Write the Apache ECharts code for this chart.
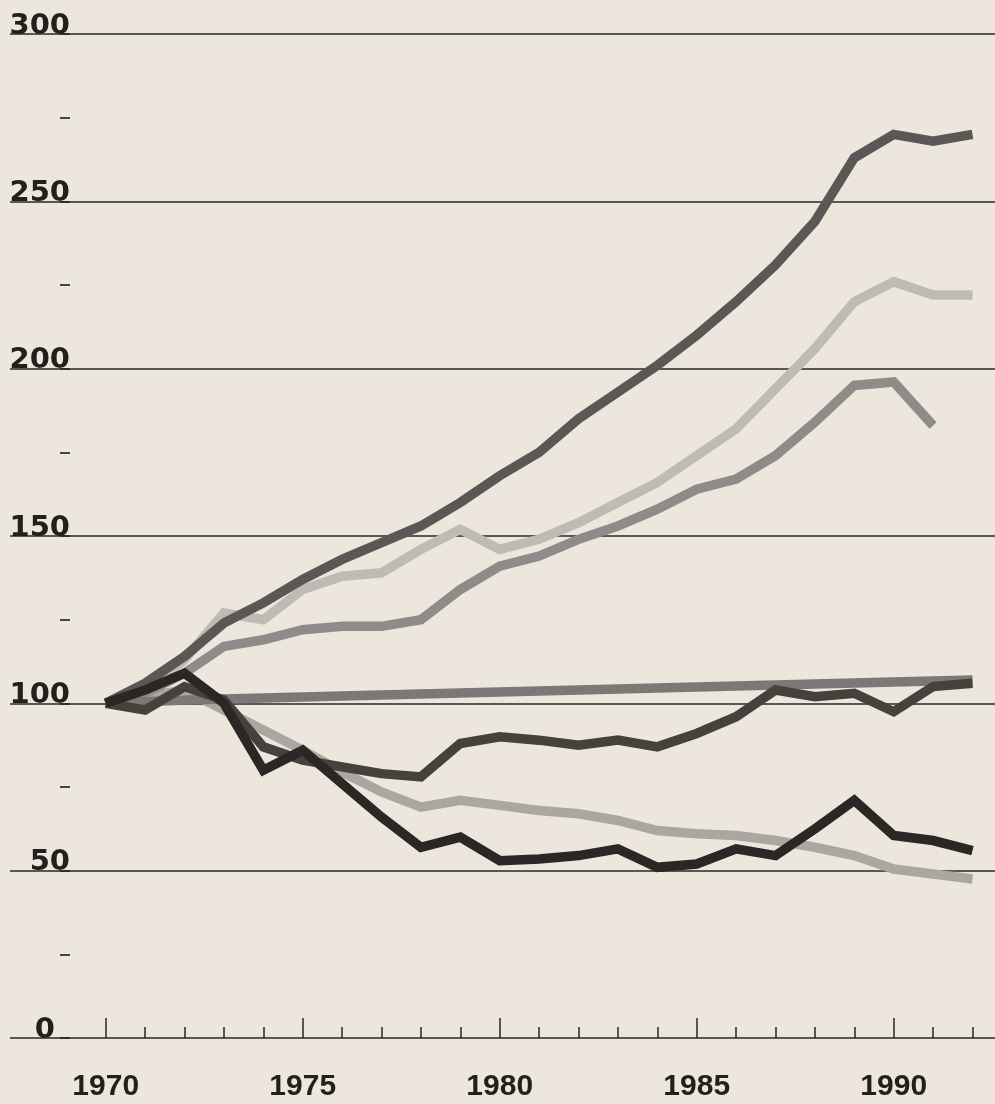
<!DOCTYPE html>
<html>
<head>
<meta charset="utf-8">
<script src="https://cdn.jsdelivr.net/npm/echarts@6/dist/echarts.min.js"></script>
<style>
html,body{margin:0;padding:0;background:#ece6dd;}
#c{width:995px;height:1104px;}
</style>
</head>
<body>
<div id="c"></div>
<script>
var years = [1970,1971,1972,1973,1974,1975,1976,1977,1978,1979,1980,1981,1982,1983,1984,1985,1986,1987,1988,1989,1990,1991,1992];
var seriesA = [100,106,114,124,130,137,143,148,153,160,168,175,185,193,201,210,220,231,244,263,270,268,270];
var seriesB = [100,104,113,127,125,134,138,139,146,152,146,149,154,160,166,174,182,194,206,220,226,222,222];
var seriesC = [100,103,109,117,119,122,123,123,125,134,141,144,149,153,158,164,167,174,184,195,196,183,null];
var seriesD = [100,100.5,101,101.3,101.6,101.9,102.2,102.5,102.8,103.1,103.4,103.7,104,104.3,104.6,104.9,105.2,105.5,105.8,106.1,106.4,106.7,107];
var seriesE = [100,98,105,101,87,83,81,79,78,88,90,89,87.5,89,87,91,96,104,102,103,97.5,105,106];
var seriesF = [100,104,109,100,80,86,76,66,57,60,53,53.5,54.5,56.5,51,52,56.5,54.5,62.5,71,60.5,59,56];
var seriesG = [100,102,104,98,92,86,79.5,73.5,69,71,69.5,68,67,65,62,61,60.5,59,57,54.5,50.5,49,47.5];
var yTicks = [0,50,100,150,200,250,300];
var xLabels = [1970,1975,1980,1985,1990];

function pairs(vals){
  var out = [];
  for (var i=0;i<years.length;i++){ if (vals[i] !== null) out.push([years[i], vals[i]]); }
  return out;
}
var ink = '#2a2622';
var font = 'Liberation Sans';
var yfont = 'DejaVu Sans';
function mk(name, vals, color, z){
  return {name:name, type:'line', xAxisIndex:1, yAxisIndex:2, data:pairs(vals), symbol:'none',
    z:z, lineStyle:{color:color, width:9.5, join:'miter', cap:'butt'}, silent:true};
}
var chart = echarts.init(document.getElementById('c'));
chart.setOption({
  animation:false,
  backgroundColor:'#ece6dd',
  grid:[
    {left:10, right:0, top:34, bottom:66, outerBoundsMode:'none', containLabel:false},
    {left:105.7, width:985, top:34, bottom:66, outerBoundsMode:'none', containLabel:false}
  ],
  xAxis:[
    {gridIndex:0, type:'value', min:0, max:1, show:false},
    {gridIndex:1, type:'value', min:1970, max:1995, interval:5,
     axisLine:{show:false}, splitLine:{show:false},
     axisTick:{show:true, inside:true, length:20, lineStyle:{color:ink, width:1.5}},
     minorTick:{show:true, splitNumber:5, length:11, lineStyle:{color:ink, width:1.5}},
     axisLabel:{margin:34, fontSize:30, fontWeight:'bold', color:'#231f1c', fontFamily:font,
       formatter:function(v){ return xLabels.indexOf(v) >= 0 ? String(v) : ''; }}}
  ],
  yAxis:[
    {gridIndex:0, type:'value', position:'left', min:0, max:300, interval:50, offset:-60,
     axisLine:{show:false}, axisTick:{show:false},
     splitLine:{show:true, lineStyle:{color:ink, width:1.5}},
     axisLabel:{margin:0, align:'right', verticalAlign:'bottom',
       formatter:function(v){ if (yTicks.indexOf(v) < 0) return ''; return v===0 ? '{z|0}' : '{n|'+v+'}'; },
       rich:{
         n:{fontSize:29, fontWeight:'bold', color:'#231f1c', fontFamily:yfont, lineHeight:16},
         z:{fontSize:29, fontWeight:'bold', color:'#231f1c', fontFamily:yfont, lineHeight:16, padding:[0,15,0,0]}
       }}},
    {gridIndex:0, type:'value', position:'left', min:0, max:300, interval:25, offset:-60,
     axisLine:{show:false}, splitLine:{show:false}, axisLabel:{show:false},
     axisTick:{show:true, length:10, lineStyle:{color:ink, width:1.7}}},
    {gridIndex:1, type:'value', min:0, max:300, show:false}
  ],
  series:[
    mk('G', seriesG, '#aaa7a2', 2),
    mk('C', seriesC, '#8e8c88', 3),
    mk('B', seriesB, '#bebbb5', 4),
    mk('A', seriesA, '#5a5854', 5),
    mk('D', seriesD, '#7b7975', 6),
    mk('E', seriesE, '#45423e', 7),
    mk('F', seriesF, '#2a2724', 8)
  ]
});
</script>
</body>
</html>
